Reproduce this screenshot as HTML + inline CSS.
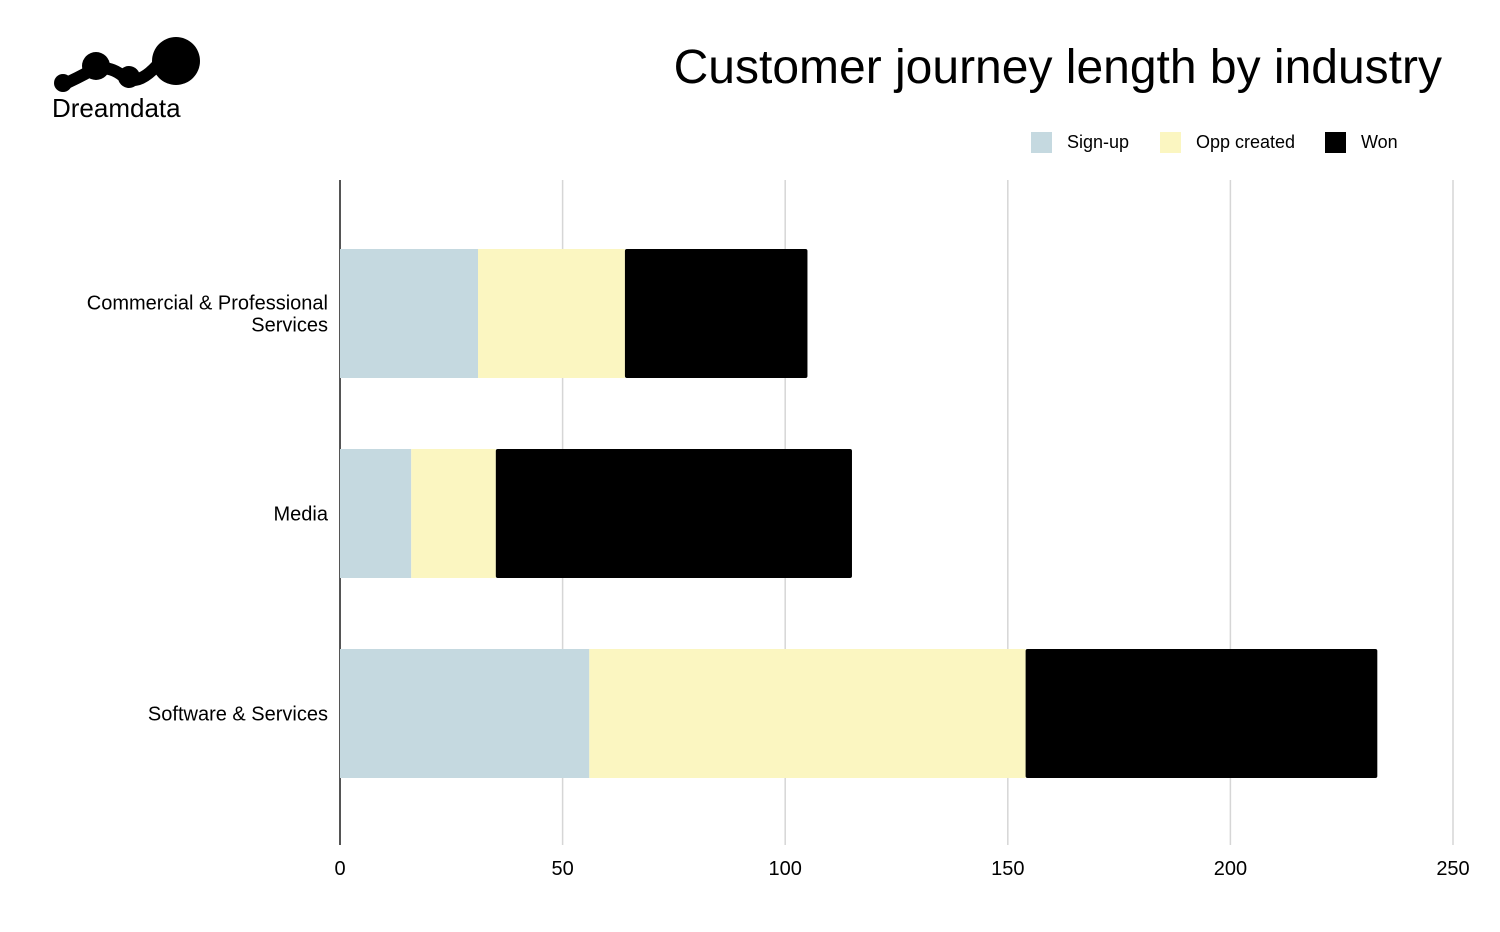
<!DOCTYPE html>
<html><head><meta charset="utf-8"><style>
body{margin:0;background:#fff;font-family:"Liberation Sans",Arial,sans-serif}
</style></head><body>
<svg width="1500" height="927" xmlns="http://www.w3.org/2000/svg">
<g>
<path d="M60 86 Q78 78 92 70 Q110 64 125 78 Q140 86 160 62" stroke="#000" stroke-width="12" fill="none"/>
<circle cx="63" cy="83" r="9"/><circle cx="96" cy="66" r="14"/><circle cx="129" cy="77" r="11"/><circle cx="176" cy="61" r="24"/>
<text x="52" y="117" font-size="26" fill="#000">Dreamdata</text>
</g>
<text x="1442" y="83" font-size="48" text-anchor="end" fill="#000">Customer journey length by industry</text>
<g id="legend"></g>
<g id="grid"></g><g id="bars"></g><g id="labels"></g>
</svg>
<script>
const categories=["Commercial & Professional|Services","Media","Software & Services"];
const seriesNames=["Sign-up","Opp created","Won"];
const signup=[31,16,56];
const opp=[33,19,98];
const won=[41,80,79];
const ticks=[0,50,100,150,200,250];
const colors=["#c5d9e0","#fbf6c1","#000000"];
const NS="http://www.w3.org/2000/svg";
const x0=340,x1=1453,xmax=250;
const xs=v=>x0+v/xmax*(x1-x0);
const yc=i=>313.5+i*200;
function mk(t,a,p){const e=document.createElementNS(NS,t);for(const k in a)e.setAttribute(k,a[k]);document.getElementById(p).appendChild(e);return e;}
ticks.forEach(t=>{
 const l=mk('line',{x1:xs(t),x2:xs(t),y1:180,y2:845,stroke:t===0?'#555':'#d6d6d6','stroke-width':t===0?2:1.5},'grid');
 
 
 const tx=mk('text',{x:xs(t),y:875,'font-size':20,'text-anchor':'middle'},'labels');
 tx.textContent=t;
 
 
});
const series=[signup,opp,won];
categories.forEach((c,i)=>{
 let acc=0;
 series.forEach((s,j)=>{
  const r=mk('rect',{x:xs(acc),y:yc(i)-64.5,width:xs(acc+s[i])-xs(acc),height:129,fill:colors[j],rx:j===2?2:0},'bars');
  
  
  acc+=s[i];
 });
 const parts=c.split('|');
 parts.forEach((p,k)=>{
  const tx=mk('text',{x:328,y:yc(i)+7+(k-(parts.length-1)/2)*22,'font-size':20,'text-anchor':'end'},'labels');
  tx.textContent=p;
  
  
 });
});
const lx=[1031,1160,1325];
seriesNames.forEach((n,j)=>{
 const r=mk('rect',{x:lx[j],y:132,width:21,height:21,fill:colors[j]},'legend');
 
 
 const t=mk('text',{x:lx[j]+36,y:148,'font-size':18},'legend');
 t.textContent=n;
 
 
});
</script>
</body></html>
